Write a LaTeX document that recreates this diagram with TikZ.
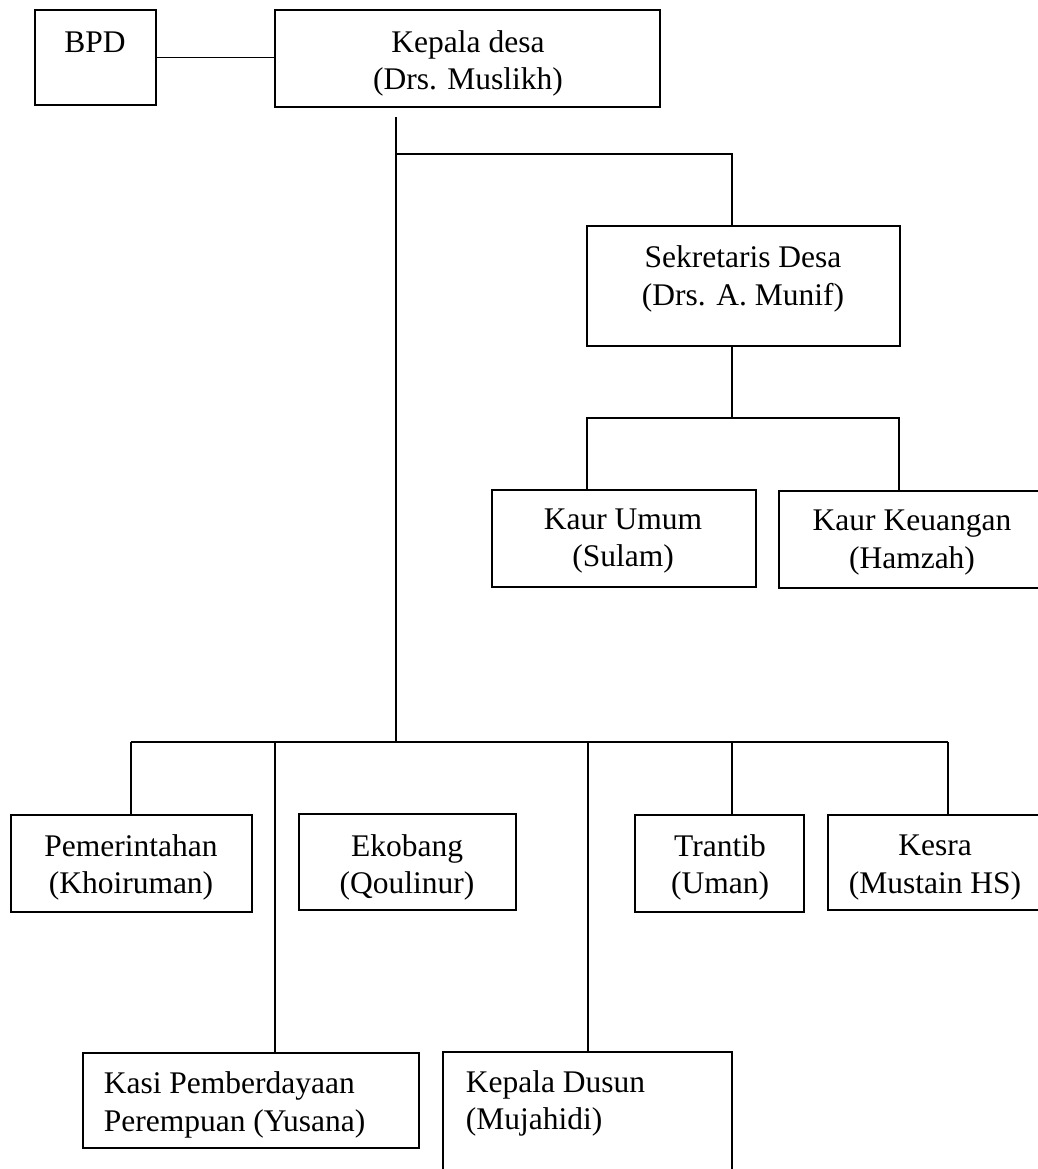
\documentclass[tikz,border=0pt]{standalone}
\usepackage{fontspec}
\setmainfont{Liberation Serif}

\begin{document}
\begin{tikzpicture}[x=1pt,y=-1pt,line width=1.6pt,
    every node/.style={font=\fontsize{31.5}{37.5}\selectfont,inner sep=0pt},
    box/.style={draw,minimum width=#1}]
  \useasboundingbox (0,0) rectangle (1037,1169);
  % boxes
  \foreach \n/\x/\y/\w/\h in {bpd/95.5/57.5/121/95,kades/467.5/58.5/385/97,
      sekdes/743.5/286/313/120,umum/624/538.5/264/97,uang/912/539.5/266/97,
      pem/131.5/863.5/241/97,eko/407.5/862/217/96,trantib/719.5/863.5/169/97,
      kesra/935/862.5/214/95,kasi/251/1100.5/336/95,dusun/587.5/1113.5/289/123} {
    \node[box=\w,minimum height=\h] (\n) at (\x,\y) {};
  }
  % texts
  \foreach \n/\x/\y/\t in {bpd/95/42/BPD,kades/468/63.5/{Kepala desa\\(Drs. Muslikh)},
      sekdes/743/279/{Sekretaris Desa\\(Drs. A. Munif)},umum/623/541/{Kaur Umum\\(Sulam)},
      uang/912/542.5/{Kaur Keuangan\\(Hamzah)},pem/131/867.5/{Pemerintahan\\(Khoiruman)},
      eko/407/867.5/{Ekobang\\(Qoulinur)},trantib/720/867.5/{Trantib\\(Uman)},
      kesra/935/867.5/{Kesra\\(Mustain HS)}} {
    \node[align=center] (\n-t) at (\x,\y) {\t};
  }
  \node[align=left,anchor=west] (kasi-t) at (103,1105) {Kasi Pemberdayaan\\Perempuan (Yusana)};
  \node[align=left,anchor=west] (dusun-t) at (465,1103.5) {Kepala Dusun\\(Mujahidi)};
  % lines
  \coordinate (k0) at (396,117);
  \coordinate (k1) at (396,154);
  \coordinate (s0) at (732,418);
  \coordinate (s1) at (587,418);
  \coordinate (s2) at (899,418);
  \foreach \i/\x in {1/131,2/275,3/588,4/732,5/948} {
    \coordinate (b\i) at (\x,742);
  }
  \draw (bpd.east) -- (bpd.east -| kades.west);
  \draw (k0) -- (k0 |- b1);
  \draw (k1) -| (s0 |- sekdes.north);
  \draw (s0 |- sekdes.south) -- (s0);
  \draw (s1 |- umum.north) |- (s2) -- (s2 |- uang.north);
  \draw (b1) -- (b5);
  \foreach \i/\n in {1/pem,2/kasi,3/dusun,4/trantib,5/kesra} {
    \draw (b\i) -- (b\i |- \n.north);
  }
\end{tikzpicture}
\end{document}
